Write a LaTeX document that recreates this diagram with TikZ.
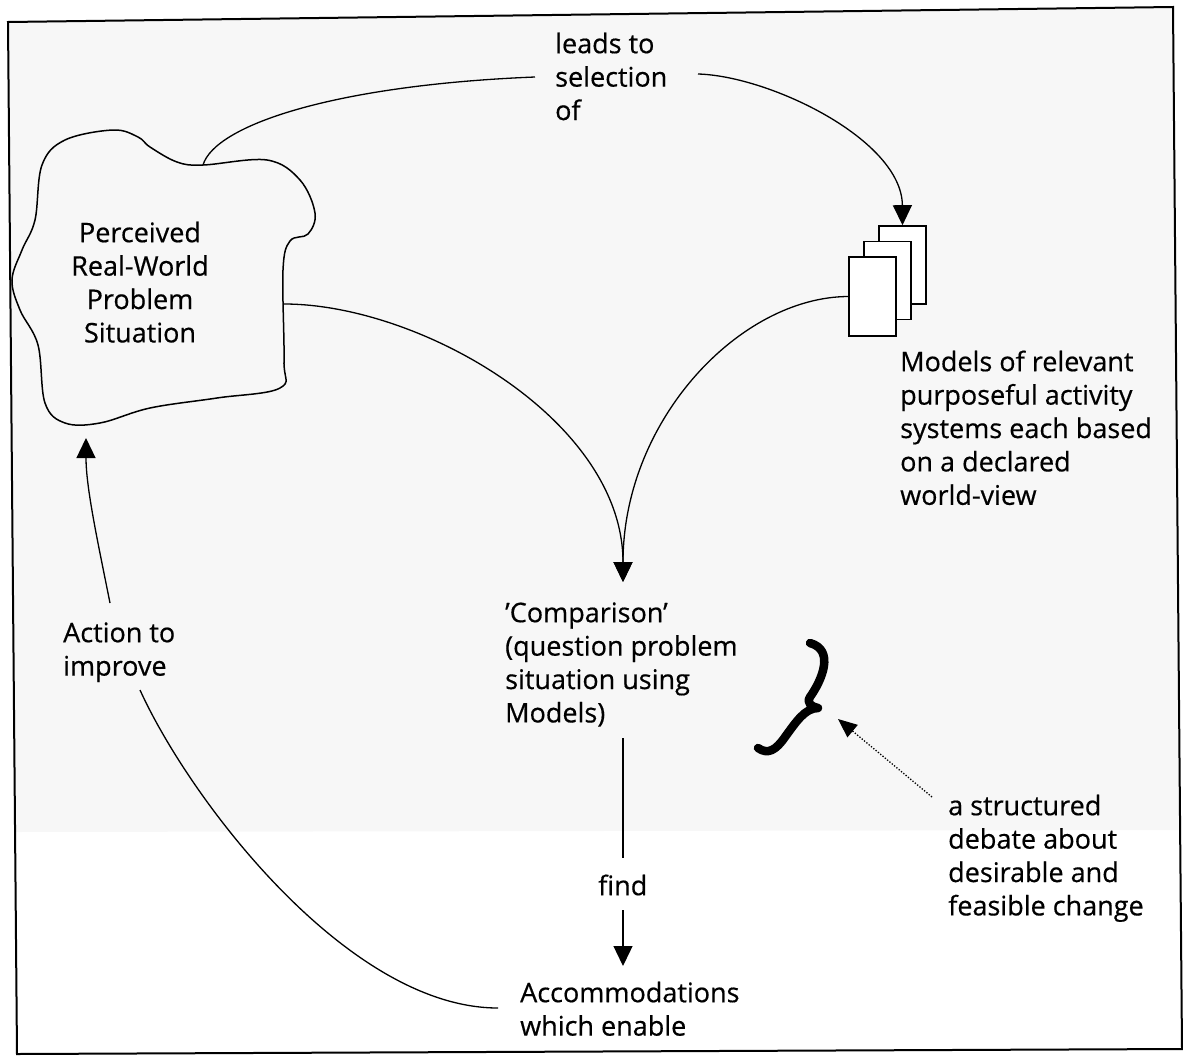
\documentclass[tikz,border=0pt]{standalone}
\usepackage{fontspec}
\setmainfont[FakeBold=0.5]{Open Sans}
\usetikzlibrary{arrows.meta}
\newcommand{\capstrut}{\rule{0pt}{22pt}}

\begin{document}
\begin{tikzpicture}[x=1pt,y=-1pt,
  lbl/.style={align=left, anchor=north west, inner sep=0pt,
              font=\fontsize{27}{33.4}\selectfont},
  link/.style={line width=1.3pt},
  head/.style={-{Triangle[length=20pt,width=19pt]}},
  modelbox/.style={draw, fill=white, line width=1.6pt,
                   minimum width=47pt, minimum height=78pt, inner sep=0pt},
  brace/.style={line width=8.5pt, line cap=round, line join=round},
]
\useasboundingbox (0,0) rectangle (1183,1055);

% paper tint over the upper part of the sheet, then the frame
\fill[black!3] (8,22) -- (1173,7) -- (1180,830) -- (15,832) -- cycle;
\draw[line width=2pt] (8,22) -- (1173,7) -- (1182,1049) -- (17,1054) -- cycle;

% the problem situation "cloud"
\draw[line width=1.5pt] plot[smooth cycle, tension=0.6] coordinates {
  (35,220) (42,165) (65,140) (113,130) (138,137) (150,147) (177,162)
  (203,165) (267,160) (300,180) (315,213) (308,234) (290,241) (283,270)
  (284,360) (280,388) (217,398) (150,408) (100,423) (65,423) (45,403)
  (38,345) (20,310) (12,280) (22,250)};
\node[lbl, align=center, anchor=north] (situation) at (140,220)
  {\capstrut Perceived\\Real-World\\Problem\\Situation};

% points on the cloud and beside labels where connectors start or end
\coordinate (cloudTop)    at (203,165);
\coordinate (cloudRight)  at (284,304);
\coordinate (cloudBottom) at (86,438);
\coordinate (leadsIn)     at (535,77);
\coordinate (leadsOut)    at (698,74);
\coordinate (meet)        at (623,582);
\coordinate (cmpOut)      at (623,738);
\coordinate (findOut)     at (623,910);
\coordinate (accIn)       at (498,1008);
\coordinate (actTop)      at (110,603);
\coordinate (actBottom)   at (140,690);
\coordinate (debateOut)   at (932,797);

% labels
\node[lbl] (leads)  at (555,31)  {\capstrut leads to\\selection\\of};
\node[lbl] (models) at (900,349) {\capstrut Models of relevant\\purposeful activity\\systems each based\\on a declared\\world-view};
\node[lbl] (comp)   at (505,600) {\capstrut 'Comparison'\\(question problem\\situation using\\Models)};
\node[lbl] (action) at (63,620)  {\capstrut Action to\\improve};
\node[lbl] (find)   at (598,873) {\capstrut find};
\node[lbl] (acc)    at (520,980) {\capstrut Accommodations\\which enable};
\node[lbl] (debate) at (948,793) {\capstrut a structured\\debate about\\desirable and\\feasible change};

% stack of activity models
\node[modelbox] (m3) at (902.5,265) {};
\node[modelbox] (m2) at (887.5,280.5) {};
\node[modelbox, minimum height=79pt] (m1) at (872.5,296.5) {};

% connectors
\draw[link] (cloudTop) .. controls (215,125) and (335,85) .. (leadsIn);
\draw[link, head] (leadsOut) .. controls (770,76) and (902,140) .. (m3.north);
\draw[link, head] (cloudRight) .. controls (420,304) and (623,420) .. (meet);
\draw[link, head] (m1.west) .. controls (740,297) and (623,420) .. (meet);
\draw[link] (cmpOut) -- (623,858) coordinate (findIn);
\draw[link, head] (findOut) -- (623,966) coordinate (accTop);
\draw[link] (accIn) .. controls +(-150,0) and +(50,110) .. (actBottom);
\draw[link, head] (actTop) .. controls +(-12,-60) and +(0,50) .. (cloudBottom);

% brace marking the debate
\draw[brace] (810,643) .. controls (835,650) and (822,680) .. (810,697)
  .. controls (806,703) and (812,707) .. (818,708)
  .. controls (805,708) and (796,722) .. (785,737)
  .. controls (776,750) and (768,755) .. (758,748);
\draw[line width=1.3pt, dash pattern=on 1.3pt off 1.7pt,
      -{Triangle[length=19pt,width=16pt,sep=0pt]}]
  (debateOut) -- (838,719) coordinate (braceTip);
\end{tikzpicture}
\end{document}
